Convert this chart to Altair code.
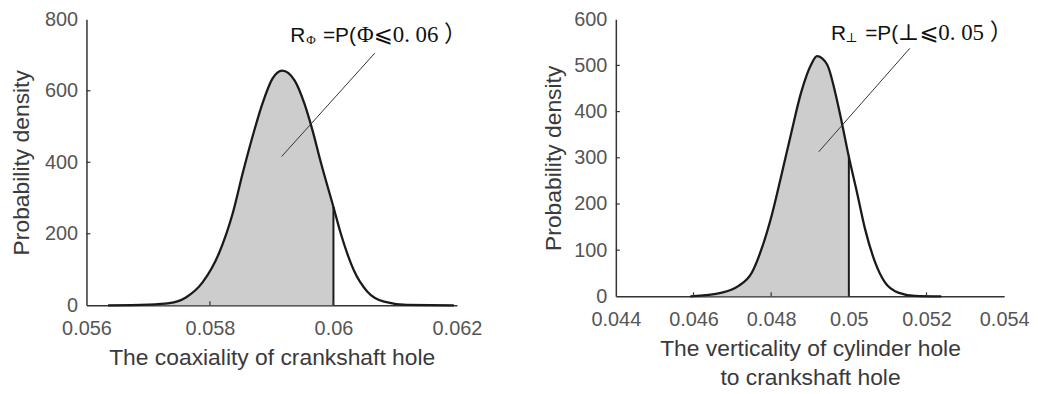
import altair as alt
import pandas as pd

# ---------------- data ----------------
# Left panel: coaxiality of crankshaft hole
COAX_X = [0.05635, 0.05700, 0.05734, 0.05761, 0.05788, 0.05815, 0.05837, 0.05853,
          0.05869, 0.05885, 0.05901, 0.05917, 0.05937, 0.05953, 0.05966, 0.05980,
          0.06000, 0.06012, 0.06033, 0.06055, 0.06082, 0.06119, 0.06195]
COAX_D = [0, 2, 6, 22, 64, 147, 258, 369,
          472, 564, 633, 656, 629, 564, 490, 397,
          275, 200, 98, 38, 10, 1, 0]
COAX_LIMIT = 0.06
COAX_XTICKS = [0.056, 0.058, 0.06, 0.062]
COAX_YTICKS = [0, 200, 400, 600, 800]

# Right panel: verticality of cylinder hole to crankshaft hole
VERT_X = [0.04592, 0.04673, 0.04715, 0.04750, 0.04775, 0.04801, 0.04826, 0.04852,
          0.04877, 0.04903, 0.04918, 0.04944, 0.04965, 0.04982, 0.05000, 0.05021,
          0.05042, 0.05068, 0.05093, 0.05127, 0.05170, 0.05238]
VERT_D = [0, 8, 22, 51, 102, 174, 261, 355,
          441, 502, 520, 502, 441, 376, 302, 225,
          145, 73, 30, 8, 1, 0]
VERT_LIMIT = 0.05
VERT_XTICKS = [0.044, 0.046, 0.048, 0.05, 0.052, 0.054]
VERT_YTICKS = [0, 100, 200, 300, 400, 500, 600]

# annotations (text pieces, leader lines) in data units
COAX_TEXT = [("R", 0.05930, 735, "sans", 21),
             ("Φ", 0.05956, 730, "serif", 13),
             ("=P(", 0.05983, 735, "sans", 21),
             ("Φ⩽0. 06 ）", 0.06038, 735, "serif", 23)]
COAX_LEADER = [(0.060669, 705), (0.059161, 416)]
VERT_TEXT = [("R", 0.04954, 556, "sans", 21),
             ("⊥", 0.04991, 551, "serif", 13),
             ("=P(", 0.05042, 556, "sans", 21),
             ("⊥⩽0. 05 ）", 0.05126, 556, "serif", 23)]
VERT_LEADER = [(0.051570, 537), (0.049225, 313)]

SANS = "Liberation Sans, Arial, Helvetica"
SERIF = "Liberation Serif, DejaVu Serif, DejaVu Sans, Noto Sans CJK SC, serif"


def panel(xs, ds, limit, xdom, xticks, ydom, yticks, w, h, xtitle, ytitle,
          texts, leader, ytitle_pad):
    df = pd.DataFrame({"x": xs, "d": ds})
    shade = df[df["x"] <= limit + 1e-12]
    xsc = alt.Scale(domain=xdom, nice=False, zero=False)
    ysc = alt.Scale(domain=ydom, nice=False, zero=False)
    xax = alt.Axis(values=xticks, format="~g", title=xtitle, ticks=False,
                   labelPadding=13, titlePadding=9, labelFlush=False)
    yax = alt.Axis(values=yticks, format="d", title=ytitle, ticks=False,
                   labelPadding=9, titlePadding=ytitle_pad, labelFlush=False)
    X = alt.X("x:Q", scale=xsc, axis=xax)
    Y = alt.Y("d:Q", scale=ysc, axis=yax)

    area = alt.Chart(shade).mark_area(color="#cdcdcd", interpolate="monotone").encode(x=X, y=Y)
    line = alt.Chart(df).mark_line(color="#1a1a1a", strokeWidth=2.3,
                                   interpolate="monotone").encode(x=X, y=Y)
    lim_d = float(df.loc[(df["x"] - limit).abs().idxmin(), "d"])
    rule_df = pd.DataFrame({"x": [limit], "d": [0], "d2": [lim_d]})
    rule = alt.Chart(rule_df).mark_rule(color="#1a1a1a", strokeWidth=2).encode(
        x=X, y=Y, y2="d2:Q")

    # inward ticks (MATLAB style)
    xt = pd.DataFrame({"x": xticks[1:-1]})
    xtick = alt.Chart(xt).mark_rule(color="#333", strokeWidth=1.2).encode(
        x=X, y=alt.value(h), y2=alt.value(h - 4))
    yt = pd.DataFrame({"d": yticks[1:-1]})
    ytick = alt.Chart(yt).mark_rule(color="#333", strokeWidth=1.2).encode(
        y=Y, x=alt.value(0), x2=alt.value(4))

    ldf = pd.DataFrame({"x": [p[0] for p in leader], "d": [p[1] for p in leader]})
    lead = alt.Chart(ldf).mark_line(color="#333", strokeWidth=1).encode(x=X, y=Y)

    layers = [area, line, rule, xtick, ytick, lead]
    for txt, tx, ty, fam, fs in texts:
        tdf = pd.DataFrame({"x": [tx], "d": [ty], "label": [txt]})
        layers.append(
            alt.Chart(tdf).mark_text(align="left", baseline="alphabetic",
                                     font=SANS if fam == "sans" else SERIF,
                                     fontSize=fs, color="#111").encode(
                x=X, y=Y, text="label:N"))
    return alt.layer(*layers).properties(width=w, height=h)


left = panel(COAX_X, COAX_D, COAX_LIMIT, [0.056, 0.062], COAX_XTICKS,
             [0, 800], COAX_YTICKS, 373, 288,
             "The coaxiality of crankshaft hole", "Probability density",
             COAX_TEXT, COAX_LEADER, 11)
right = panel(VERT_X, VERT_D, VERT_LIMIT, [0.044, 0.054], VERT_XTICKS,
              [0, 600], VERT_YTICKS, 391, 279,
              ["The verticality of cylinder hole", "to crankshaft hole"],
              "Probability density", VERT_TEXT, VERT_LEADER, 8)

chart = alt.hconcat(left, right, spacing=60).properties(
    padding={"left": 2, "top": 0, "right": 0, "bottom": 0}).configure_view(
    stroke=None).configure_axis(
    grid=False, domainColor="#333", domainWidth=1.5,
    labelFont=SANS, labelFontSize=20, labelColor="#555",
    titleFont=SANS, titleFontSize=23, titleColor="#3a3a3a", titleFontWeight="normal",
    titleLineHeight=29)

chart.save("out.html", embed_options={"renderer": "svg", "actions": False})
